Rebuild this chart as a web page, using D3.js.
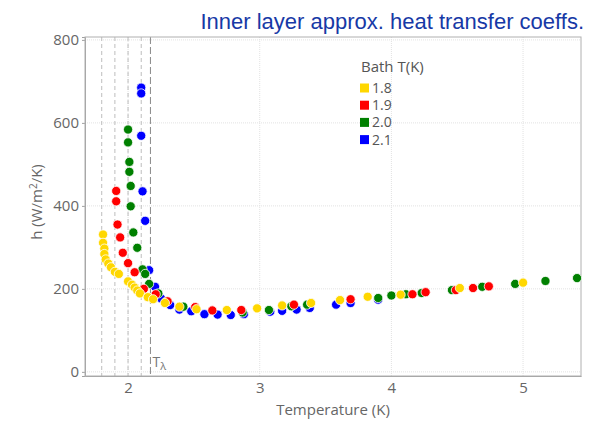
<!DOCTYPE html>
<meta charset="utf-8">
<script src="https://d3js.org/d3.v7.min.js"></script>
<style>
  body { margin: 0; background: #fff; }
  text { font-family: "Open Sans", sans-serif; }
</style>
<div id="my_dataviz"></div>
<script>

// bath temperatures, one series each
var bathTemps = ["1.8", "1.9", "2.0", "2.1"];
var bathColors = ["#FFD700", "#FF0000", "#008000", "#0000FF"];

// [temperature K, h W/m2/K]
var h18 = [[1.81,331],[1.81,311],[1.82,297],[1.82,284],[1.83,271],[1.85,261],[1.87,252],[1.90,241],
  [1.93,236],[2.00,218],[2.03,210],[2.05,203],[2.07,196],[2.09,189],[2.15,180],[2.19,175],[2.28,166],
  [2.39,157],[2.52,151],[2.75,149],[2.98,153],[3.17,160],[3.39,166],[3.61,173],[3.82,181],[4.07,186],
  [4.52,202],[5.00,215]];
var h19 = [[1.91,436],[1.91,411],[1.92,355],[1.94,324],[1.96,287],[2.00,262],[2.05,240],[2.12,200],
  [2.21,187],[2.30,170],[2.51,156],[2.64,148],[2.86,149],[3.26,162],[3.69,175],[4.16,187],[4.26,192],
  [4.49,197],[4.62,202],[4.74,206]];
var h20 = [[2.00,584],[2.00,553],[2.01,506],[2.01,482],[2.02,448],[2.02,399],[2.04,336],[2.07,299],
  [2.11,247],[2.13,236],[2.16,212],[2.23,189],[2.29,169],[2.42,157],[2.87,143],[3.07,149],[3.24,158],
  [3.36,162],[3.90,178],[4.00,184],[4.11,187],[4.23,190],[4.46,197],[4.69,205],[4.94,212],[5.17,219],
  [5.41,226]];
var h21 = [[2.10,685],[2.10,671],[2.10,569],[2.11,435],[2.13,364],[2.16,245],[2.205,205],[2.25,177],
  [2.32,161],[2.39,150],[2.48,146],[2.58,139],[2.68,138],[2.78,137],[2.88,139],[3.08,145],[3.17,147],
  [3.28,150],[3.38,154],[3.58,162],[3.69,166],[3.90,174]];

var xTicks = [2, 3, 4, 5];
var yTicks = [0, 200, 400, 600, 800];
var lambdaT = 2.17;

var width = 613, height = 423;
var margin = {top: 37, right: 32, bottom: 47, left: 85};

var svg = d3.select("#my_dataviz")
  .append("svg")
    .attr("width", width)
    .attr("height", height);

var x = d3.scaleLinear().domain([1.673, 5.44]).range([margin.left, width - margin.right]);
var y = d3.scaleLinear().domain([-10, 807]).range([height - margin.bottom, margin.top]);

// title
svg.append("text")
  .attr("x", 584).attr("y", 29)
  .attr("text-anchor", "end")
  .style("font-family", "'Liberation Sans', Arial, sans-serif")
  .style("font-size", "22px")
  .style("fill", "#1739a6")
  .text("Inner layer approx. heat transfer coeffs.");

// grid
svg.append("g").selectAll("line").data(yTicks).enter().append("line")
  .attr("x1", margin.left).attr("x2", width - margin.right)
  .attr("y1", function(d) { return y(d); }).attr("y2", function(d) { return y(d); })
  .style("stroke", "#e2e2e2").style("stroke-dasharray", "1,1");
svg.append("g").selectAll("line").data(xTicks).enter().append("line")
  .attr("x1", function(d) { return x(d); }).attr("x2", function(d) { return x(d); })
  .attr("y1", margin.top).attr("y2", height - margin.bottom)
  .style("stroke", "#e2e2e2").style("stroke-dasharray", "1,1");

// bath temperature markers
svg.append("g").selectAll("line").data(bathTemps).enter().append("line")
  .attr("x1", function(d) { return x(+d); }).attr("x2", function(d) { return x(+d); })
  .attr("y1", margin.top).attr("y2", height - margin.bottom)
  .style("stroke", "#bdbdbd").style("stroke-dasharray", "4,3");
svg.append("line")
  .attr("x1", x(lambdaT)).attr("x2", x(lambdaT))
  .attr("y1", margin.top).attr("y2", height - margin.bottom)
  .style("stroke", "#8a8a8a").style("stroke-dasharray", "7,3");
var tl = svg.append("text")
  .attr("x", x(lambdaT) + 2).attr("y", 367)
  .style("font-size", "14px").style("fill", "#777");
tl.append("tspan").text("T");
tl.append("tspan").attr("dy", 3).style("font-size", "11px").text("λ");

// axes
var yAxis = svg.append("g")
  .attr("transform", "translate(" + margin.left + ",0)")
  .call(d3.axisLeft(y).tickValues(yTicks).tickSize(3).tickPadding(3));
var xAxis = svg.append("g")
  .attr("transform", "translate(0," + (height - margin.bottom) + ")")
  .call(d3.axisBottom(x).tickValues(xTicks).tickFormat(d3.format("d")).tickSize(0).tickPadding(6));
[xAxis, yAxis].forEach(function(a) {
  a.select(".domain").style("stroke", "#a0a0a0");
  a.selectAll(".tick line").style("stroke", "#a0a0a0");
  a.selectAll("text").style("font-family", "'Open Sans', sans-serif").style("font-size", "15px").style("fill", "#666");
});
// right and top of frame
svg.append("rect")
  .attr("x", margin.left).attr("y", margin.top)
  .attr("width", width - margin.left - margin.right)
  .attr("height", height - margin.top - margin.bottom)
  .style("fill", "none").style("stroke", "#b0b0b0");

// axis labels
svg.append("text")
  .attr("x", 333).attr("y", 415)
  .attr("text-anchor", "middle")
  .style("font-size", "15px").style("fill", "#666")
  .text("Temperature (K)");
var yl = svg.append("text")
  .attr("transform", "translate(42,202) rotate(-90)")
  .attr("text-anchor", "middle")
  .style("font-size", "15px").style("fill", "#666");
yl.append("tspan").text("h (W/m");
yl.append("tspan").attr("dy", -5).style("font-size", "10px").text("2");
yl.append("tspan").attr("dy", 5).text("/K)");

// points, 2.1 drawn first so 1.8 ends on top
var series = [h18, h19, h20, h21];
for (var i = series.length - 1; i >= 0; i--) {
  svg.append("g").selectAll("circle").data(series[i]).enter().append("circle")
    .attr("cx", function(d) { return x(d[0]); })
    .attr("cy", function(d) { return y(d[1]); })
    .attr("r", 4.6)
    .style("fill", bathColors[i])
    .style("stroke", "#fff").style("stroke-width", 0.8);
}

// legend
svg.append("text")
  .attr("x", 361).attr("y", 72)
  .style("font-size", "15px").style("fill", "#555")
  .text("Bath T(K)");
bathTemps.forEach(function(t, i) {
  var cy = 88 + i * 17.2;
  svg.append("rect")
    .attr("x", 360).attr("y", cy - 4.5).attr("width", 9).attr("height", 9)
    .style("fill", bathColors[i]);
  svg.append("text")
    .attr("x", 372).attr("y", cy + 5)
    .style("font-size", "14px").style("fill", "#555")
    .text(t);
});
</script>
